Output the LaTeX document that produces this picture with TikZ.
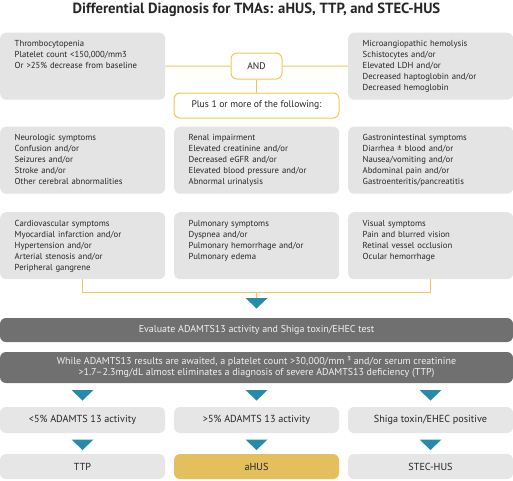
\documentclass[tikz,border=0pt]{standalone}
\usepackage{fontspec}
\setmainfont{PT Sans}
\usetikzlibrary{positioning}
\definecolor{boxgray}{RGB}{228,228,228}
\definecolor{stepgray}{RGB}{230,230,230}
\definecolor{bargray}{RGB}{112,112,112}
\definecolor{linegold}{RGB}{240,198,84}
\definecolor{arrowteal}{RGB}{38,138,168}
\definecolor{ahusgold}{RGB}{228,191,94}

\begin{document}
\begin{tikzpicture}[x=1pt,y=-1pt,
   every node/.style={font=\fontsize{8.7}{11}\selectfont,text=black!85},
   infobox/.style={fill=boxgray,rounded corners=6pt,anchor=north west,
     text width=136pt,inner xsep=14.5pt,inner ysep=8pt,align=left,
     text height=6pt,text depth=45pt},
   andbox/.style={draw=linegold,line width=1pt,fill=white,rounded corners=6pt,
     font=\fontsize{9.6}{11}\selectfont},
   darkbar/.style={fill=bargray,rounded corners=6pt,text=white!94!black,
     minimum width=513pt,align=center,font=\fontsize{10}{11}\selectfont},
   resultbox/.style={fill=stepgray,rounded corners=6pt,minimum width=165pt,
     minimum height=26pt,font=\fontsize{10.2}{11}\selectfont},
   yline/.style={draw=linegold,line width=1pt},
   downtri/.pic={\fill[arrowteal] (-11,0) -- (11,0) -- (0,10.5) -- cycle;}]
\useasboundingbox (0,0) rectangle (513,480);

\node[font=\fontsize{14.7}{16}\selectfont\bfseries] (title) at (256.5,10)
   {Differential Diagnosis for TMAs: aHUS, TTP, and STEC-HUS};

\node[infobox] (thrombo) at (0,32.5) {Thrombocytopenia\\
   Platelet count <150,000/mm3\\ Or >25\% decrease from baseline};
\node[infobox] (hemolysis) at (348,32.5) {Microangiopathic hemolysis\\
   Schistocytes and/or\\ Elevated LDH and/or\\
   Decreased haptoglobin and/or\\ Decreased hemoglobin};
\node[andbox,minimum width=51pt,minimum height=26pt] (and) at (256.5,66) {AND};
\node[andbox,minimum width=165pt,minimum height=25pt] (plus) at (256.5,105.5)
   {Plus 1 or more of the following:};

\node[infobox] (neuro) at (0,126.5) {Neurologic symptoms\\ Confusion and/or\\
   Seizures and/or\\ Stroke and/or\\ Other cerebral abnormalities};
\node[infobox] (renal) at (174,126.5) {Renal impairment\\
   Elevated creatinine and/or\\ Decreased eGFR and/or\\
   Elevated blood pressure and/or\\ Abnormal urinalysis};
\node[infobox] (gastro) at (348,126.5) {Gastronintestinal symptoms\\
   Diarrhea ± blood and/or\\ Nausea/vomiting and/or\\
   Abdominal pain and/or\\ Gastroenteritis/pancreatitis};

\node[infobox] (cardio) at (0,212) {Cardiovascular symptoms\\
   Myocardial infarction and/or\\ Hypertension and/or\\
   Arterial stenosis and/or\\ Peripheral gangrene};
\node[infobox] (pulmo) at (174,212) {Pulmonary symptoms\\ Dyspnea and/or\\
   Pulmonary hemorrhage and/or\\ Pulmonary edema};
\node[infobox] (visual) at (348,212) {Visual symptoms\\
   Pain and blurred vision\\ Retinal vessel occlusion\\ Ocular hemorrhage};

\draw[yline] (thrombo.east) -- (and.west);
\draw[yline] (and.east) -- (hemolysis.west);
\draw[yline] (and.south) -- (plus.north);

\coordinate (tip0) at (256.5,298);
\draw[yline] (cardio.south) -- ++(0,13) -| (visual.south);
\draw[yline] (pulmo.south) ++(0,13) -- (tip0);
\pic at (tip0) {downtri};

\node[darkbar,minimum height=24pt] (evaluate) at (256.5,330)
   {Evaluate ADAMTS13 activity and Shiga toxin/EHEC test};
\node[darkbar,minimum height=31pt] (awaited) at (256.5,367.5)
   {While ADAMTS13 results are awaited, a platelet count >30,000/mm ³ and/or serum creatinine\\
   >1.7–2.3mg/dL almost eliminates a diagnosis of severe ADAMTS13 deficiency (TTP)};

\foreach \x in {82.5,256.5,430.5} {
  \pic at (\x,390) {downtri};
  \pic at (\x,439.5) {downtri};
}

\node[resultbox] (low) at (82.5,420) {<5\% ADAMTS 13 activity};
\node[resultbox] (high) at (256.5,420) {>5\% ADAMTS 13 activity};
\node[resultbox] (shiga) at (430.5,420) {Shiga toxin/EHEC positive};

\node[resultbox,minimum height=25pt] (ttp) at (82.5,466.5) {TTP};
\node[resultbox,minimum height=25pt,fill=ahusgold] (ahus) at (256.5,466.5) {aHUS};
\node[resultbox,minimum height=25pt] (stec) at (430.5,466.5) {STEC-HUS};
\end{tikzpicture}
\end{document}
